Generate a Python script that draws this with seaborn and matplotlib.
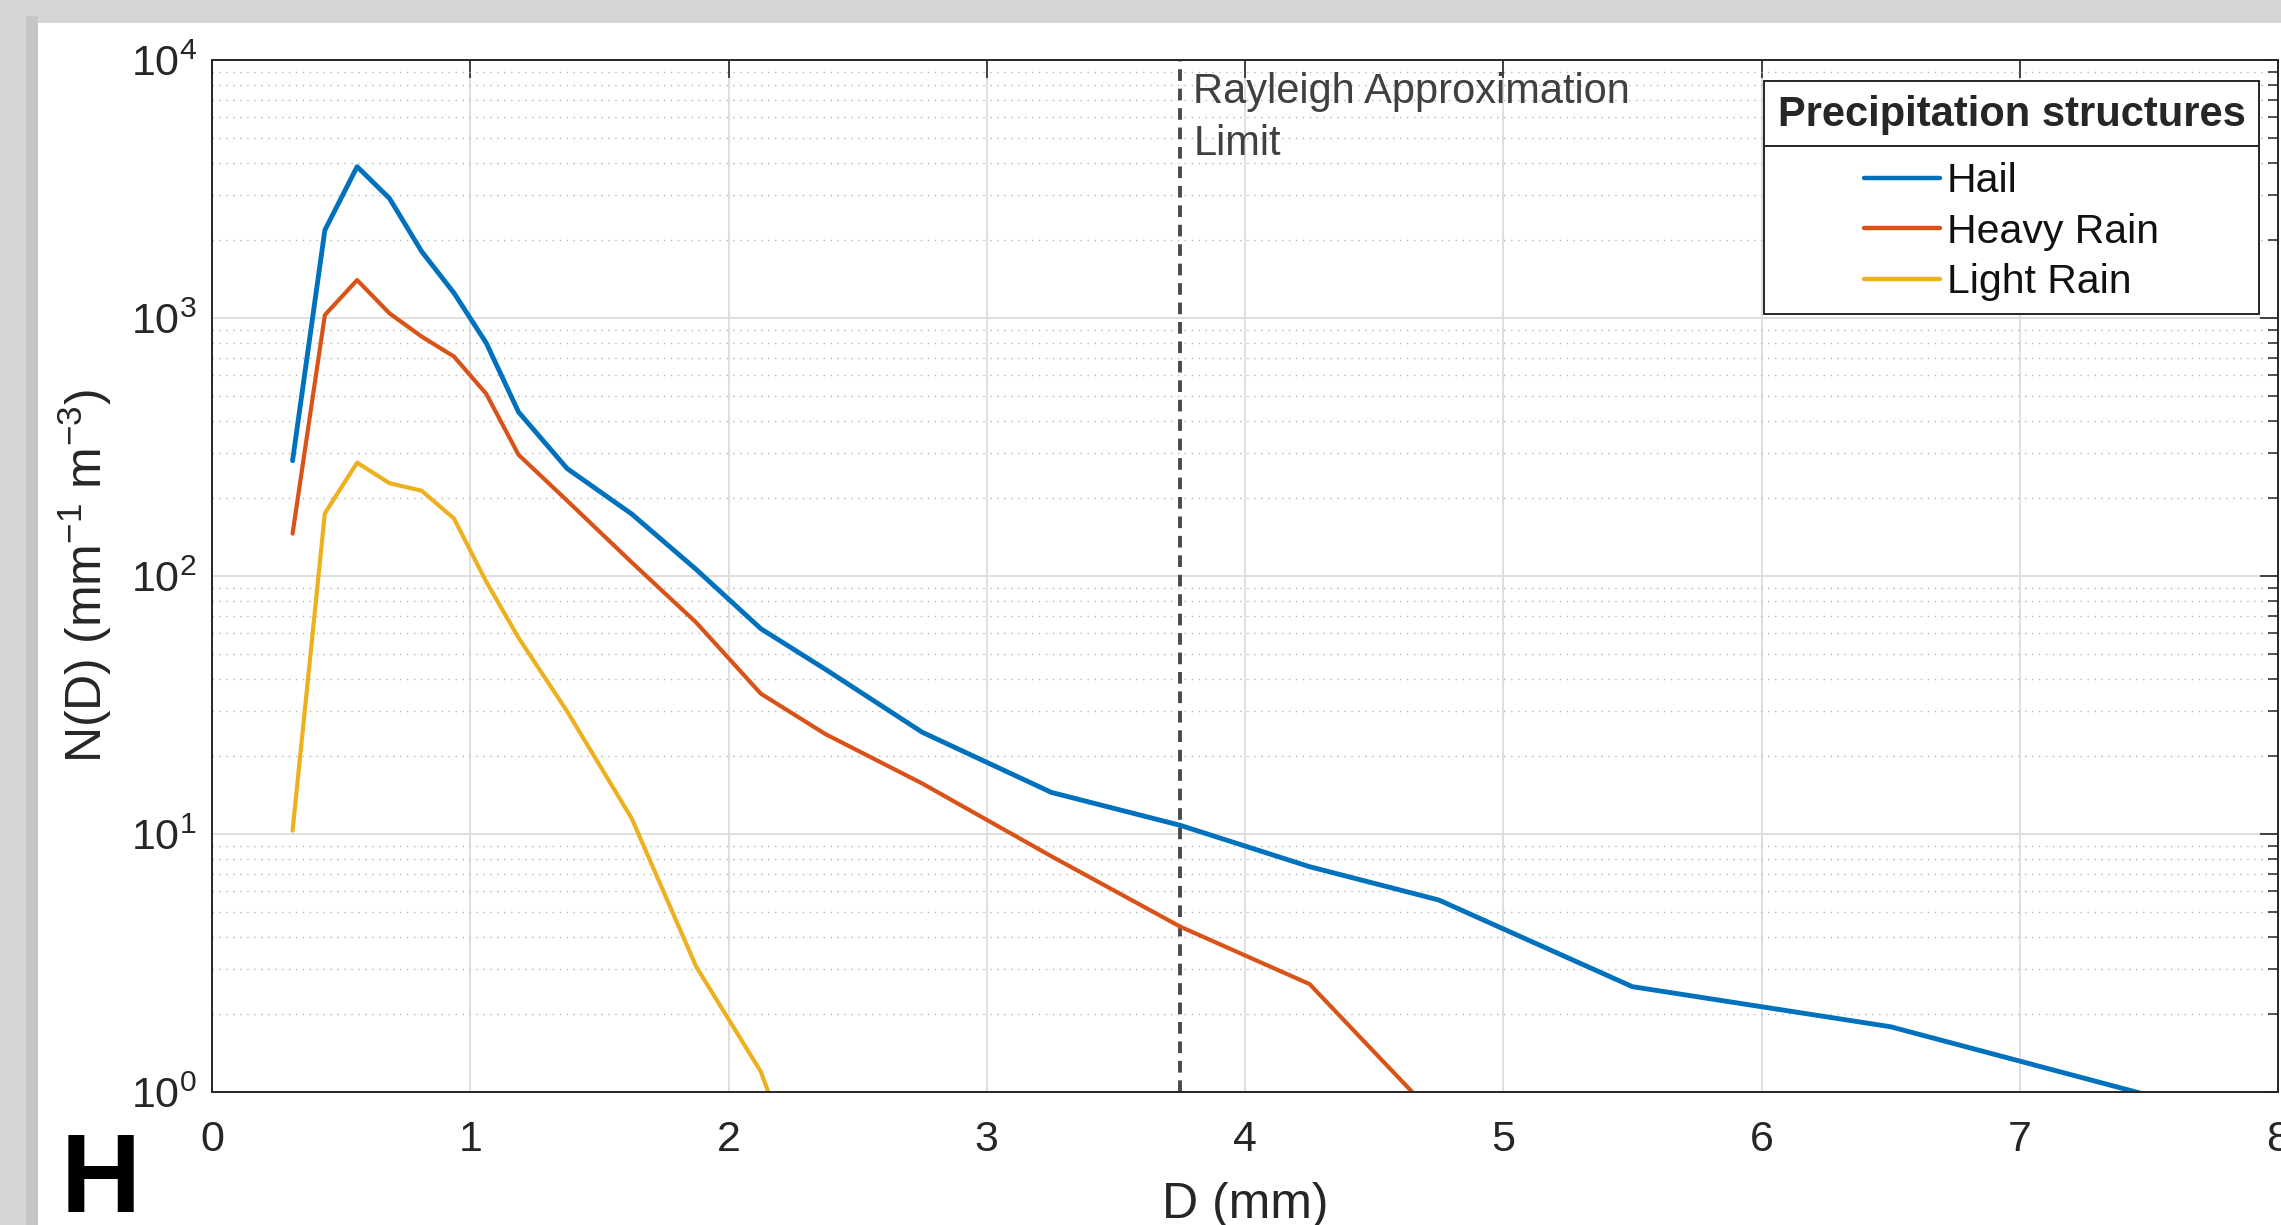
import numpy as np
import pandas as pd
import matplotlib
matplotlib.use("Agg")
import matplotlib.pyplot as plt
from matplotlib.patches import Rectangle
from matplotlib.lines import Line2D
import seaborn as sns

# ---------------- data ----------------
diameters = [0.312, 0.437, 0.562, 0.687, 0.812, 0.937, 1.062, 1.187, 1.375, 1.625,
             1.875, 2.125, 2.375, 2.75, 3.25, 3.75, 4.25, 4.75, 5.5, 6.5, 7.5]
hail = [280, 2190, 3860, 2910, 1810, 1250, 800, 432, 261, 174,
        106, 62.5, 43.5, 24.8, 14.5, 10.8, 7.47, 5.55, 2.56, 1.79, 0.97]
heavy_rain = [146, 1027, 1403, 1043, 847, 709, 508, 295, 196, 113,
              66, 35, 24.4, 15.7, 8.2, 4.37, 2.62, 0.78]
light_rain = [10.3, 175, 275, 229, 214, 167, 95, 57.6, 29.9, 11.5,
              3.06, 1.2, 0.25]
series_names = ["Hail", "Heavy Rain", "Light Rain"]
series_colors = ["#0072BD", "#D95319", "#EDB120"]
rayleigh_limit = 3.75
x_ticks = [0, 1, 2, 3, 4, 5, 6, 7, 8]

frames = []
for name, vals in zip(series_names, [hail, heavy_rain, light_rain]):
    frames.append(pd.DataFrame({"D": diameters[:len(vals)], "N": vals, "structure": name}))
df = pd.concat(frames, ignore_index=True)

# ---------------- style ----------------
sns.set_style("white")
plt.rcParams["font.family"] = ["Liberation Sans", "DejaVu Sans"]
plt.rcParams["mathtext.fontset"] = "custom"
plt.rcParams["mathtext.rm"] = "Liberation Sans"
plt.rcParams["mathtext.it"] = "Liberation Sans:italic"
plt.rcParams["mathtext.bf"] = "Liberation Sans:bold"

W, H = 2281, 1225
fig = plt.figure(figsize=(W / 100, H / 100), dpi=100)
fig.patch.set_facecolor("#d5d5d5")
fig.add_artist(Rectangle((26 / W, 0), 12 / W, 1 - 16 / H, transform=fig.transFigure,
                         facecolor="#c6c6c6", edgecolor="none", zorder=-6))
fig.add_artist(Rectangle((38 / W, 0), 1, 1 - 23 / H, transform=fig.transFigure,
                         facecolor="white", edgecolor="none", zorder=-5))

ax_l, ax_r, ax_t, ax_b = 212, 2278, 60, 1092
ax = fig.add_axes([ax_l / W, 1 - ax_b / H, (ax_r - ax_l) / W, (ax_b - ax_t) / H])

sns.lineplot(data=df, x="D", y="N", hue="structure", hue_order=series_names,
             palette=dict(zip(series_names, series_colors)), estimator=None,
             sort=False, legend=False, ax=ax)
for line, lw in zip(ax.lines, [3.5, 3.0, 3.0]):
    line.set_linewidth(lw)

ax.set_yscale("log")
ax.set_xlim(0, 8)
ax.set_ylim(1, 1e4)
ax.set_xticks(x_ticks)

ax.axvline(rayleigh_limit, color="#4a4a4a", ls=(0, (3, 2)), lw=2.8, zorder=1.5)
ax.text(3.80, 10 ** 3.955, "Rayleigh Approximation\nLimit", va="top", ha="left",
        fontsize=30, color="#404040", linespacing=1.39)

ax.set_axisbelow(True)
ax.grid(True, which="major", color="#dcdcdc", lw=1.3, ls="-")
ax.grid(True, which="minor", axis="y", color="#b5b5b5", lw=1.0, ls=(0, (1, 4)))
ax.tick_params(which="both", direction="in", top=True, right=True,
               colors="#262626", labelcolor="#262626", labelsize=31)
ax.tick_params(which="major", length=13, width=1.2)
ax.tick_params(which="minor", length=7, width=1.1)
ax.tick_params(axis="x", pad=20)
ax.tick_params(axis="y", pad=11)
for sp in ax.spines.values():
    sp.set_color("#262626")
    sp.set_linewidth(1.4)

ax.set_xlabel("D (mm)", fontsize=36, color="#262626")
ax.set_ylabel("N(D) (mm$^{-1}$ m$^{-3}$)", fontsize=36, color="#262626")
ax.xaxis.set_label_coords(0.5, -0.1095)
ax.xaxis.label.set_va("center")
ax.yaxis.set_label_coords(-0.0615, 0.5)
ax.yaxis.label.set_va("center")

handles = [Line2D([], [], color=c, lw=3.2) for c in series_colors]
leg = ax.legend(handles, series_names, title="Precipitation structures",
                loc="upper right",
                bbox_to_anchor=((2259 - ax_l) / (ax_r - ax_l), (ax_b - 81) / (ax_b - ax_t)),
                borderaxespad=0, fontsize=29.5,
                title_fontproperties={"weight": "bold", "size": 30},
                frameon=True, fancybox=False, framealpha=1, edgecolor="#262626",
                alignment="center", handlelength=1.85, handletextpad=0.17,
                labelspacing=0.3, borderpad=0.33)
leg.get_frame().set_linewidth(1.4)
for t in leg.get_texts():
    t.set_color("#111111")
# extra gap between legend title and entries
try:
    leg._legend_box.sep = 20
except Exception:
    pass

fig.text(61 / W, 1 - 1212 / H, "H", fontsize=80, fontweight="bold", color="black",
         ha="left", va="baseline")

# separator line under the legend title
fig.canvas.draw()
fb = leg.get_frame().get_window_extent()
tb = leg.get_title().get_window_extent()
eb = leg.get_texts()[0].get_window_extent()
inv = fig.transFigure.inverted()
ysep = (tb.y0 + eb.y1) / 2 + 2
p0 = inv.transform((fb.x0, ysep))
p1 = inv.transform((fb.x1, ysep))
fig.add_artist(Line2D([p0[0], p1[0]], [p0[1], p1[1]], transform=fig.transFigure,
                      color="#262626", lw=1.4, zorder=10))

fig.savefig("out.png", dpi=100, facecolor=fig.get_facecolor())
